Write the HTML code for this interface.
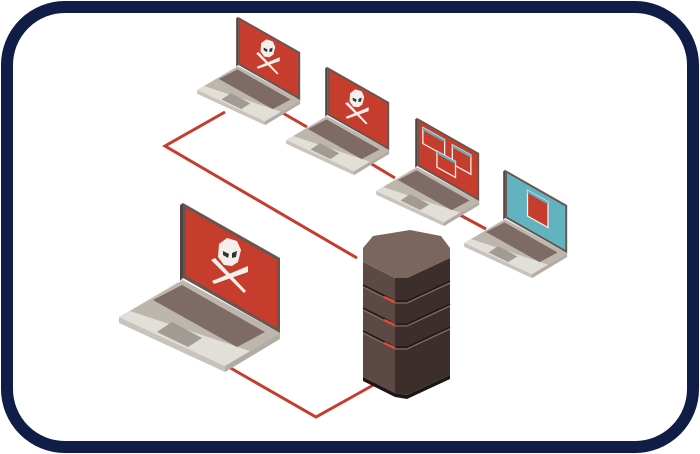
<!DOCTYPE html>
<html><head><meta charset="utf-8"><style>
html,body{margin:0;padding:0;background:#fff;}
svg{display:block;}
</style></head><body>
<svg width="700" height="454" viewBox="0 0 700 454" xmlns="http://www.w3.org/2000/svg">
<defs>
<g id="base">
  <polygon points="119,317 178,282 280,333 225,366" fill="#e2ded8"/>
  <polygon points="119,317 225,366 225,372 119,323" fill="#c9c3bb"/>
  <polygon points="225,366 280,333 280,339 225,372" fill="#b3aca4"/>
  <polygon points="130,311 183,280 280,333 250,351" fill="#bdb6ad"/>
  <polygon points="153,300 182,285 265,332 237,347" fill="#7e6b66"/>
  <polygon points="157,332 172,322 202,338 188,347" fill="#a29b94"/>
  <polygon points="183,203 280,258 280,333 183,278" fill="#665550"/>
  <polygon points="180,205 183,203 183,278 180,281" fill="#52433f"/>
</g>
<g id="skull">
  <polygon points="219,244 227,238 237,241 241,250 238,262 232,266 224,265 218,257" fill="#f3f0ec"/>
  <polygon points="223,251 229,254 228,258 223,255" fill="#333"/>
  <polygon points="232,253 237,251 236,257 232,258" fill="#333"/>
  <polygon points="211,260 215,258 246,291 244,293" fill="#f3f0ec"/>
  <polygon points="212,281 248,266 248,272 214,284" fill="#f3f0ec"/>
</g>
<g id="lapRed">
  <use href="#base"/>
  <polygon points="186,208 277,260 277,328 186,276" fill="#c63d2d"/>
  <use href="#skull"/>
</g>
</defs>
<rect x="7" y="7" width="686" height="440" rx="58" ry="58" fill="#fff" stroke="#0f1d47" stroke-width="12"/>

<g stroke="#c63d2d" stroke-width="3" fill="none">
  <polyline points="225,112 165,146 357,258"/>
  <line x1="281" y1="112" x2="307" y2="127"/>
  <line x1="370" y1="163" x2="395" y2="178"/>
  <line x1="460" y1="215" x2="486" y2="229"/>
  <polyline points="227,366 316,417 377,383"/>
</g>

<g transform="translate(121,-113) scale(0.64)"><use href="#lapRed"/></g>
<g transform="translate(210,-63) scale(0.64)"><use href="#lapRed"/></g>
<g transform="translate(300,-12) scale(0.64)">
  <use href="#base"/>
  <polygon points="186,208 277,260 277,328 186,276" fill="#c63d2d"/>
  <g fill="#c63d2d" stroke="#f3f0ec" stroke-width="2">
    <polygon points="192,218 226,237 226,262 192,243"/>
    <polygon points="238,245 267,261 267,291 238,275"/>
    <polygon points="214,255 243,271 243,296 214,280"/>
  </g>
  <polygon points="192,218 226,237 226,241 192,222" fill="#5fb0bf"/>
  <polygon points="238,245 267,261 267,265 238,249" fill="#5fb0bf"/>
  <polygon points="214,255 243,271 243,275 214,259" fill="#5fb0bf"/>
</g>
<g transform="translate(388,40) scale(0.64)">
  <use href="#base"/>
  <polygon points="186,208 277,260 277,328 186,276" fill="#62b2c0"/>
  <polygon points="218,235 250,253 250,293 218,275" fill="#c63d2d" stroke="#f3f0ec" stroke-width="2"/>
  <polygon points="218,235 250,253 250,257 218,239" fill="#5fb0bf"/>
</g>

<use href="#lapRed"/>

<!-- server -->
<g>
  <polygon points="363,377 395,393 407,395 450,375 450,379 407,399 395,397 363,381" fill="#1e1615"/>
  <polygon points="363,262 395,278 395,393 363,377" fill="#5a4944"/>
  <polygon points="395,278 407,278 450,258 450,375 407,395 395,393" fill="#3b2e2b"/>
  <polygon points="363,248 373,236 410,230 441,236 450,248 450,258 407,278 395,278 363,262" fill="#7a665f"/>
  <g stroke="#221a18" stroke-width="1.5" fill="none">
    <polyline points="363,285 395,301 407,301 450,281"/>
    <polyline points="363,308 395,324 407,324 450,304"/>
    <polyline points="363,331 395,347 407,347 450,327"/>
  </g>
  <g stroke="#8a7570" stroke-width="1" fill="none">
    <polyline points="363,287 395,303 407,303 450,283"/>
    <polyline points="363,310 395,326 407,326 450,306"/>
    <polyline points="363,333 395,349 407,349 450,329"/>
  </g>
  <g stroke="#e04a35" stroke-width="2.5">
    <line x1="384" y1="297" x2="395" y2="302"/>
    <line x1="384" y1="320" x2="395" y2="325"/>
    <line x1="384" y1="343" x2="395" y2="348"/>
  </g>
</g>
</svg>
</body></html>
